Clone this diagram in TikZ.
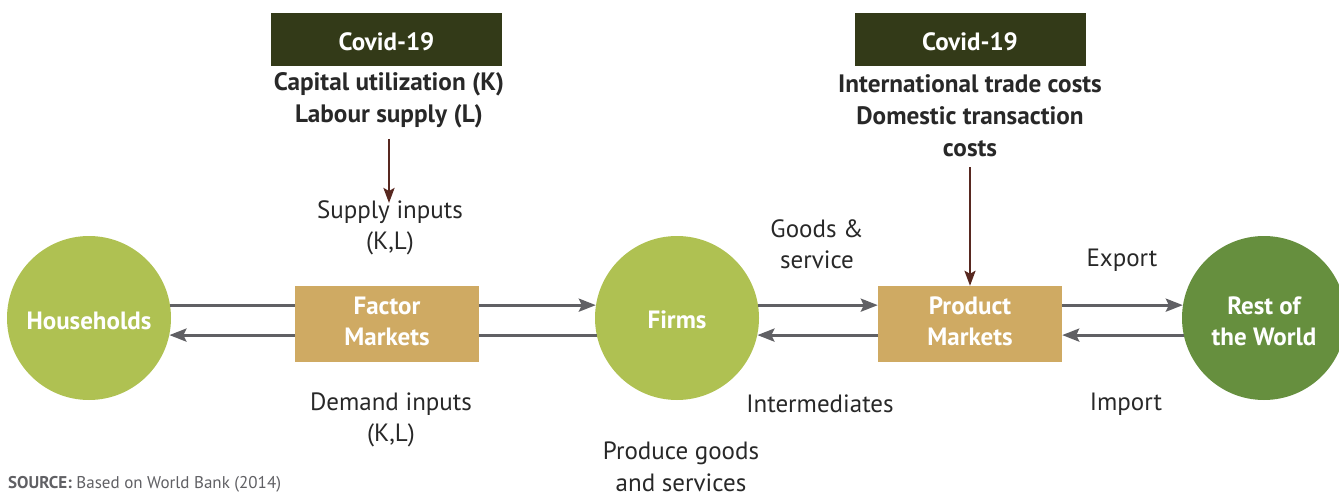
\documentclass[tikz,border=0pt]{standalone}
\usepackage{fontspec}
\setmainfont{PT Sans}
\usepackage{tikz}
\usetikzlibrary{arrows.meta}
\usetikzlibrary{calc}

\definecolor{covidbg}{RGB}{51,58,24}
\definecolor{markettan}{RGB}{207,170,99}
\definecolor{lightgreen}{RGB}{175,193,82}
\definecolor{darkgreen}{RGB}{102,143,62}
\definecolor{flowgray}{RGB}{96,96,100}
\definecolor{shockbrown}{RGB}{88,40,32}
\definecolor{labelgray}{RGB}{40,40,40}

\newcommand{\lowerby}[1]{\rule{0pt}{#1}}

\begin{document}
\begin{tikzpicture}[x=1pt, y=-1pt,
        agent_style/.style={circle, minimum size=164pt, inner sep=0pt, text=white, align=center,
            font=\fontsize{25}{31}\selectfont\bfseries},
        market_style/.style={rectangle, fill=markettan, minimum width=184pt, minimum height=76pt,
            inner sep=0pt, text=white, align=center, font=\fontsize{25}{31}\selectfont\bfseries},
        covid_style/.style={rectangle, fill=covidbg, minimum width=231pt, minimum height=53pt,
            inner sep=0pt, text=white, font=\fontsize{25}{28}\selectfont\bfseries},
        shock_style/.style={inner sep=0pt, align=center, text=labelgray,
            font=\fontsize{25.2}{32}\selectfont\bfseries},
        label_style/.style={inner sep=0pt, align=center, text=labelgray,
            font=\fontsize{25}{31.5}\selectfont},
        edge_style/.style={draw=flowgray, line width=3pt, -{Stealth[length=17pt, width=13pt, inset=3pt]}},
        line_style/.style={draw=flowgray, line width=3pt},
        shock_edge_style/.style={draw=shockbrown, line width=2.5pt, -{Stealth[length=15pt, width=11pt, inset=3pt]}}]

        \useasboundingbox (0,0) rectangle (1339,492);

        \node [agent_style, fill=lightgreen](hh) at (89,318) {\lowerby{23pt}Households};

        \node [market_style](fm) at (387,324) {\begin{tabular}{@{}c@{}}Factor\\Markets\end{tabular}};

        \node [agent_style, fill=lightgreen](firms) at (677,318) {\lowerby{21pt}Firms};

        \node [market_style](pm) at (970,324) {\begin{tabular}{@{}c@{}}Product\\Markets\end{tabular}};

        \node [agent_style, fill=darkgreen](row) at (1264,318) {\lowerby{25pt}Rest of\\the World};

        \node [covid_style](cv1) at (386.5,39.5) {\lowerby{22pt}Covid-19};

        \node [covid_style](cv2) at (970,39.5) {\lowerby{22pt}Covid-19};

        \node [shock_style](ks) at (389,100) {Capital utilization (K)\\Labour supply (L)};

        \node [shock_style](tc) at (970,116) {International trade costs\\Domestic transaction\\costs};

        \node [label_style](si) at (390,228) {Supply inputs\\(K,L)};

        \node [label_style](di) at (391,420) {Demand inputs\\(K,L)};

        \node [label_style](gs) at (817,244) {Goods \&\\service};

        \node [label_style](im) at (820,404) {Intermediates};

        \node [label_style](ex) at (1122,260) {Export};

        \node [label_style](ip) at (1126,404) {Import};

        \node [label_style](pg) at (681,467) {Produce goods\\and services};

        \node [inner sep=0pt, anchor=west, text=flowgray, font=\fontsize{17}{19}\selectfont](src) at (8,484) {\textbf{SOURCE:} Based on World Bank (2014)};

        \coordinate (sitop) at (389,203);

        \draw [shock_edge_style] ($(ks.south)+(0,11)$) -- (sitop);

        \draw [shock_edge_style] ($(tc.south)+(0,10)$) -- (pm.north);

        % factor market flows
        \draw [line_style] (hh.9) -- (hh.9 -| fm.west);

        \draw [edge_style] (fm.east |- hh.9) -- (firms.171);

        \draw [line_style] (firms.192) -- (firms.192 -| fm.east);

        \draw [edge_style] (fm.west |- hh.-12) -- (hh.-12);

        % product market flows
        \draw [edge_style] (firms.9) -- (firms.9 -| pm.west);

        \draw [edge_style] (pm.west |- firms.-12) -- (firms.-12);

        \draw [edge_style] (pm.east |- firms.9) -- (row.171);

        \draw [edge_style] (row.192) -- (row.192 -| pm.east);

\end{tikzpicture}
\end{document}
